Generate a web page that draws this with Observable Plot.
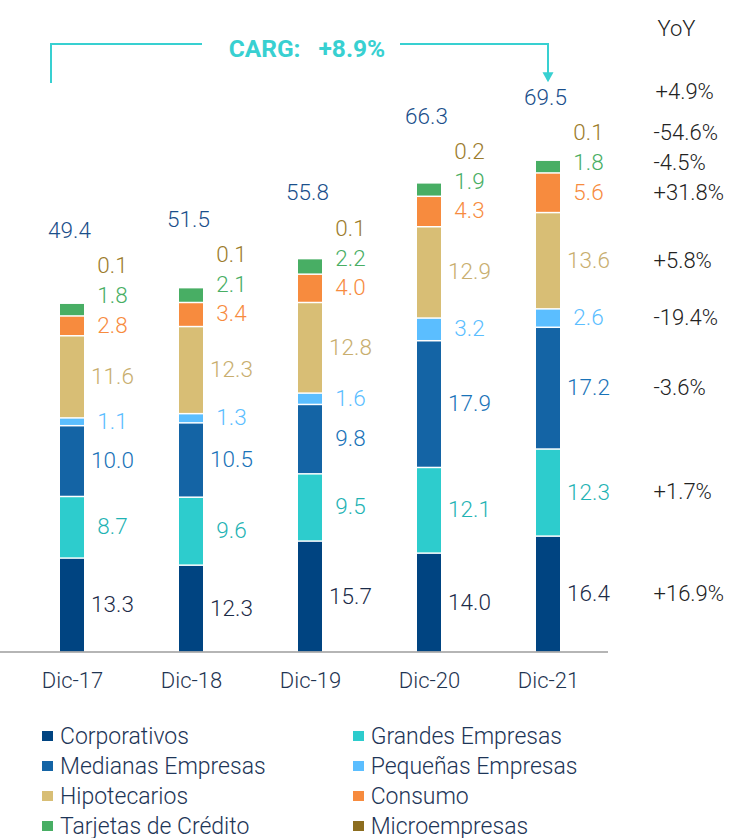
<!DOCTYPE html>
<html><head><meta charset="utf-8">
<script src="https://cdn.jsdelivr.net/npm/d3@7"></script>
<script src="https://cdn.jsdelivr.net/npm/@observablehq/plot@0.6"></script>
<style>
body{margin:0;background:#fff;font-family:Roboto,sans-serif;}
#wrap{position:relative;width:734px;height:838px;overflow:hidden;}
#wrap svg{position:absolute;left:0;top:0;display:block;}
#legend{position:absolute;left:42px;top:721px;display:grid;grid-template-columns:310.7px 320px;}
.item{display:flex;align-items:center;height:30px;font-size:23px;font-weight:300;color:#1d3557;white-space:nowrap;}
.sw{width:11px;height:10px;margin-right:7px;flex:none;}
</style></head><body><div id="wrap"><div id="legend"></div></div>
<script>
// ---- data ----
const years = ["Dic-17", "Dic-18", "Dic-19", "Dic-20", "Dic-21"];
const seriesNames = ["Corporativos", "Grandes Empresas", "Medianas Empresas", "Pequeñas Empresas",
                     "Hipotecarios", "Consumo", "Tarjetas de Crédito", "Microempresas"];
const corporativos = [13.3, 12.3, 15.7, 14.0, 16.4];
const grandes      = [8.7, 9.6, 9.5, 12.1, 12.3];
const medianas     = [10.0, 10.5, 9.8, 17.9, 17.2];
const pequenas     = [1.1, 1.3, 1.6, 3.2, 2.6];
const hipotecarios = [11.6, 12.3, 12.8, 12.9, 13.6];
const consumo      = [2.8, 3.4, 4.0, 4.3, 5.6];
const tarjetas     = [1.8, 2.1, 2.2, 1.9, 1.8];
const micro        = [0.1, 0.1, 0.1, 0.2, 0.1];
const totals       = [49.4, 51.5, 55.8, 66.3, 69.5];
const yoySeries    = ["+16.9%", "+1.7%", "-3.6%", "-19.4%", "+5.8%", "+31.8%", "-4.5%", "-54.6%"];
const yoyTotal     = "+4.9%";
const cargText     = ["CARG:", "+8.9%"];

// ---- styles ----
const barColors   = ["#004481", "#2dcccd", "#1464a5", "#5bbeff", "#d8be75", "#f78b3e", "#48ae64", "#8c6d1f"];
const labelColors = ["#1b2b48", "#1fb3b4", "#1973b8", "#5bbeff", "#c8ae6e", "#f78b3e", "#48ae64", "#9c7c2c"];
const totalColor = "#1a4f8b";
const teal = "#38d0d1";
const FONT = "Roboto, sans-serif";
const W = 300;

const valuesBySeries = [corporativos, grandes, medianas, pequenas, hipotecarios, consumo, tarjetas, micro];
const labelGap = 4.2, totalGap = 5;
const rows = [], totalRows = [];
years.forEach((yr, i) => {
  let base = 0, prev = -Infinity;
  seriesNames.forEach((s, j) => {
    const v = valuesBySeries[j][i];
    const ly = Math.max(base + v / 2, prev + labelGap);
    rows.push({year: yr, series: s, si: j, value: v, labelY: ly});
    prev = ly; base += v;
  });
  totalRows.push({year: yr, total: totals[i], labelY: prev + totalGap});
});
const lastYear = years[years.length - 1];
const lastRows = rows.filter(d => d.year === lastYear);
const yoyRows = lastRows.map((d, j) => ({labelY: d.labelY, text: yoySeries[j]}));
const yoyTotalRow = [{labelY: totalRows[totalRows.length - 1].labelY, text: yoyTotal}];

const pxPerUnit = 7.08, base0 = 651.5, yMax = 92;
const labelMarks = seriesNames.map((s, j) =>
  Plot.text(rows.filter(d => d.si === j), {
    x: "year", y: "labelY", text: d => d.value.toFixed(1),
    fill: labelColors[j], dx: 40, fontSize: 22.5, fontFamily: FONT, fontWeight: W
  }));

const chart = Plot.plot({
  width: 734, height: 706,
  marginLeft: 0, marginRight: 126, marginTop: 0, marginBottom: 706 - base0,
  x: {type: "band", domain: years, range: [10, 609], paddingInner: 0.8, paddingOuter: 0.4, axis: null},
  y: {domain: [0, yMax], range: [base0, base0 - yMax * pxPerUnit], axis: null},
  color: {domain: seriesNames, range: barColors},
  style: {fontFamily: FONT, background: "white", overflow: "visible"},
  marks: [
    Plot.barY(rows, {x: "year", y: "value", fill: "series", insetTop: 1.5}),
    Plot.ruleY([0], {stroke: "#9d9d9d", strokeWidth: 1.5}),
    ...labelMarks,
    Plot.text(totalRows, {x: "year", y: "labelY", text: d => d.total.toFixed(1), fill: totalColor, dx: -3, fontSize: 22.5, fontFamily: FONT, fontWeight: W}),
    Plot.text(years, {x: d => d, y: 0, dy: 29, text: d => d, fill: "#1f3552", fontSize: 22, fontFamily: FONT, fontWeight: W}),
    Plot.text(yoyRows, {x: () => lastYear, y: "labelY", text: "text", dx: 105, textAnchor: "start", fill: "#222", fontSize: 22, fontFamily: FONT, fontWeight: W}),
    Plot.text(yoyTotalRow, {x: () => lastYear, y: "labelY", text: "text", dx: 107, dy: -6, textAnchor: "start", fill: "#222", fontSize: 22, fontFamily: FONT, fontWeight: W}),
    Plot.text(["YoY"], {x: () => lastYear, frameAnchor: "top", dy: 20, dx: 109, textAnchor: "start", fill: "#222", fontSize: 22, fontFamily: FONT, fontWeight: W})
  ]
});
document.getElementById("wrap").prepend(chart);

// ---- CARG bracket annotation, positioned through the plot's scales ----
const sx = chart.scale("x"), sy = chart.scale("y");
const bw = sx.bandwidth != null ? sx.bandwidth : 24;
const cx = yr => sx.apply(yr) + bw / 2;
const cargLevel = 85.8, cargFoot = 80.3, arrowTip = 80.4;
const yTop = sy.apply(cargLevel), yFoot = sy.apply(cargFoot), yTip = sy.apply(arrowTip);
const tc = cx(years[2]);
const x0 = cx(years[0]) - 21, xA = cx(lastYear);
const g = d3.select(chart).append("g");
g.append("path").attr("d", `M${x0},${yFoot}V${yTop}H${tc - 108}`).attr("fill", "none").attr("stroke", teal).attr("stroke-width", 2);
g.append("path").attr("d", `M${tc + 90},${yTop}H${xA}V${yTip - 9}`).attr("fill", "none").attr("stroke", teal).attr("stroke-width", 2);
g.append("path").attr("d", `M${xA - 5.5},${yTip - 10}L${xA + 5.5},${yTip - 10}L${xA},${yTip}Z`).attr("fill", teal);
g.append("text").attr("x", tc - 9.5).attr("y", yTop + 13).attr("text-anchor", "end")
  .attr("font-family", FONT).attr("font-weight", "bold").attr("font-size", 24.5).attr("fill", teal).text(cargText[0]);
g.append("text").attr("x", tc + 8.5).attr("y", yTop + 13).attr("text-anchor", "start")
  .attr("font-family", FONT).attr("font-weight", "bold").attr("font-size", 24.5).attr("fill", teal).text(cargText[1]);

// ---- legend ----
const legend = document.getElementById("legend");
seriesNames.forEach((s, j) => {
  const it = document.createElement("div"); it.className = "item";
  const sw = document.createElement("span"); sw.className = "sw"; sw.style.background = barColors[j];
  const tx = document.createElement("span"); tx.textContent = s;
  it.appendChild(sw); it.appendChild(tx); legend.appendChild(it);
});
</script>
</body></html>
